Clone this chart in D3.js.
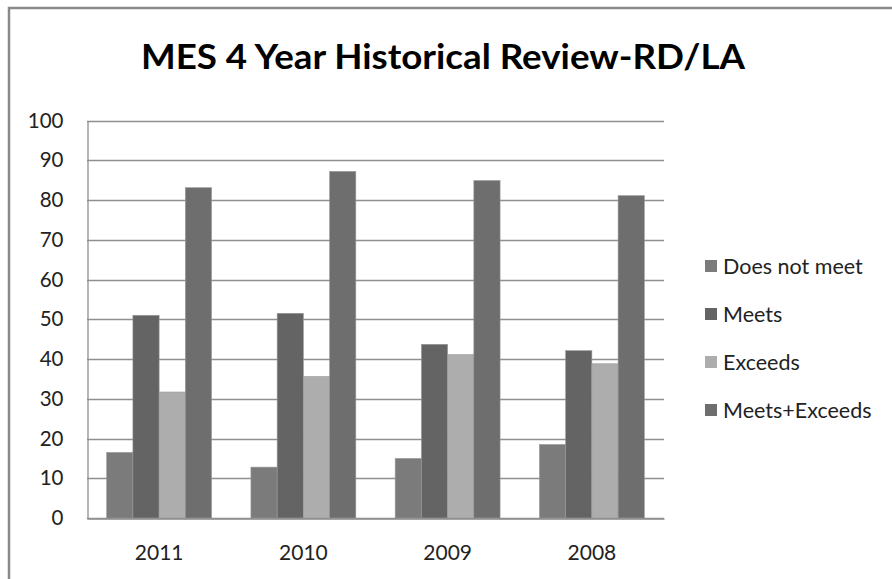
<!DOCTYPE html>
<html>
<head>
<meta charset="utf-8">
<script src="https://cdn.jsdelivr.net/npm/d3@7/dist/d3.min.js"></script>
<style>
  html, body { margin: 0; padding: 0; background: #fff; }
  svg { display: block; }
</style>
</head>
<body>
<svg id="chart" width="892" height="579"></svg>
<script>
// Assessment results by year (percent of students)
const years = ["2011", "2010", "2009", "2008"];
const seriesNames = ["Does not meet", "Meets", "Exceeds", "Meets+Exceeds"];
const doesNotMeet = [16.5, 12.8, 15.0, 18.5];
const meets = [51.0, 51.5, 43.7, 42.1];
const exceeds = [31.7, 35.6, 41.1, 38.8];
const meetsExceeds = [83.1, 87.2, 84.9, 81.1];
const yTicks = [0, 10, 20, 30, 40, 50, 60, 70, 80, 90, 100];
const seriesColors = ["#7b7b7b", "#646464", "#adadad", "#6e6e6e"];

const seriesValues = [doesNotMeet, meets, exceeds, meetsExceeds];
const rows = years.map((yr, i) => ({
  year: yr,
  values: seriesNames.map((s, j) => ({ series: s, idx: j, value: seriesValues[j][i] }))
}));

const svg = d3.select("#chart");
const font = "Lato, 'Open Sans', sans-serif";

// outer chart frame
svg.append("path")
  .attr("d", "M9,579 V8 H892")
  .attr("fill", "none")
  .attr("stroke", "#8a8a8a")
  .attr("stroke-width", 2.5);

// title
svg.append("text")
  .attr("x", 443)
  .attr("y", 69)
  .attr("text-anchor", "middle")
  .attr("font-family", font)
  .attr("font-weight", "bold")
  .attr("font-size", 34)
  .attr("fill", "#000")
  .attr("textLength", 604)
  .attr("lengthAdjust", "spacingAndGlyphs")
  .text("MES 4 Year Historical Review-RD/LA");

const plot = { left: 87, right: 664, top: 120.5, bottom: 518 };

// one band per year; bands touch, the gap between groups lives inside each band
const x0 = d3.scaleBand()
  .domain(years)
  .range([plot.left, plot.right])
  .padding(0);

// four bars per band, with a gap of 1.5 bar widths between groups
const bw = x0.bandwidth();
const barW = bw / 5.5;
const x1 = d3.scaleBand()
  .domain(d3.range(seriesNames.length))
  .range([barW * 0.75, barW * 4.75])
  .padding(0);

const y = d3.scaleLinear().domain([0, 100]).range([plot.bottom, plot.top]);

// gridlines
svg.append("g")
  .selectAll("line")
  .data(yTicks)
  .join("line")
  .attr("x1", plot.left)
  .attr("x2", plot.right)
  .attr("y1", d => Math.round(y(d)) + 0.5)
  .attr("y2", d => Math.round(y(d)) + 0.5)
  .attr("stroke", "#8f8f8f")
  .attr("stroke-width", 1.3);

// y axis line and labels
const yAxis = d3.axisLeft(y).tickValues(yTicks).tickSize(0).tickPadding(24);
const gy = svg.append("g")
  .attr("transform", `translate(${plot.left + 0.5},0)`)
  .call(yAxis);
gy.select(".domain").attr("stroke", "#8f8f8f").attr("stroke-width", 1.3);
gy.selectAll("text")
  .attr("font-family", font)
  .attr("font-size", 20.5)
  .attr("fill", "#222");

// bars
svg.append("g")
  .selectAll("g")
  .data(rows)
  .join("g")
  .attr("transform", d => `translate(${x0(d.year)},0)`)
  .selectAll("rect")
  .data(d => d.values)
  .join("rect")
  .attr("x", d => x1(d.idx))
  .attr("width", x1.bandwidth())
  .attr("y", d => y(d.value))
  .attr("height", d => y(0) - y(d.value))
  .attr("fill", d => seriesColors[d.idx])
  .attr("stroke", "#9a9a9a")
  .attr("stroke-width", 0.6);

// x axis
const xAxis = d3.axisBottom(x0).tickSize(0).tickPadding(27);
const gx = svg.append("g")
  .attr("transform", `translate(0,${plot.bottom + 0.5})`)
  .call(xAxis);
gx.select(".domain").attr("stroke", "#8f8f8f").attr("stroke-width", 1.3);
gx.selectAll("text")
  .attr("font-family", font)
  .attr("font-size", 21)
  .attr("fill", "#222");

// legend
const legendY = d3.scalePoint().domain(seriesNames).range([266, 410]);
const lg = svg.append("g")
  .selectAll("g")
  .data(seriesNames)
  .join("g")
  .attr("transform", d => `translate(705,${legendY(d)})`);
lg.append("rect")
  .attr("x", 0).attr("y", -6)
  .attr("width", 12).attr("height", 12)
  .attr("fill", (d, i) => seriesColors[i]);
lg.append("text")
  .attr("x", 18)
  .attr("dy", "0.36em")
  .attr("font-family", font)
  .attr("font-size", 21.5)
  .attr("fill", "#222")
  .text(d => d);
</script>
</body>
</html>
